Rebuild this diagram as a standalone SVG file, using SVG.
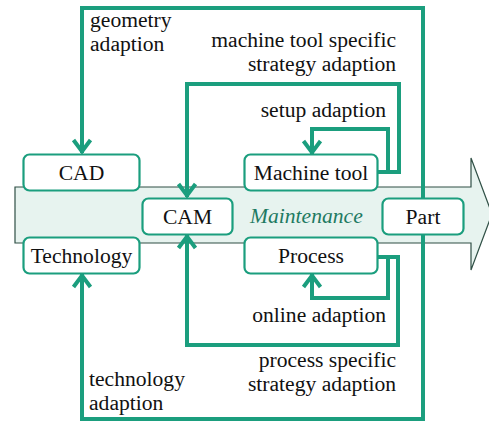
<svg xmlns="http://www.w3.org/2000/svg" width="489" height="425" viewBox="0 0 489 425" font-family="'Liberation Serif', 'DejaVu Serif', serif" font-size="21.6">
  <style>
    .txt { font-family: 'Liberation Serif', 'DejaVu Serif', serif; font-size: 21.6px; fill: #111; }
    .box { fill: #ffffff; stroke: #1b9e7e; stroke-width: 2.2; }
    .lbl { text-anchor: middle; }
    .end { text-anchor: end; }
    .flow { fill: none; stroke: #1b9e7e; stroke-width: 4; stroke-linejoin: miter; }
    .maint { font-style: italic; fill: #1e7a62; }
  </style>
  <defs>
    <marker id="chev" markerUnits="userSpaceOnUse" viewBox="-16 -12 20 24" refX="0" refY="0" markerWidth="20" markerHeight="24" orient="auto">
      <path d="M -13 -8.5 L -1.5 0 L -13 8.5" fill="none" stroke="#1b9e7e" stroke-width="4"/>
    </marker>
  </defs>

  <!-- process arrow in the background -->
  <path d="M15,187 H471 V158 L492,214 L471,270 V243 H15 Z" fill="#e7f3ef" stroke="#2f4f45" stroke-width="1.2"/>
  <text class="txt maint" x="250" y="223">Maintenance</text>

  <g id="connectors">
    <!-- geometry adaption -->
    <path class="flow" d="M423,198 V8 H82 V153" marker-end="url(#chev)"/>
    <!-- technology adaption -->
    <path class="flow" d="M423,234 V419 H82 V274" marker-end="url(#chev)"/>
    <!-- machine tool specific strategy adaption -->
    <path class="flow" d="M378,172 H399 V84 H187 V197" marker-end="url(#chev)"/>
    <!-- setup adaption -->
    <path class="flow" d="M378,172 H388 V129 H312 V154" marker-end="url(#chev)"/>
    <!-- process specific strategy adaption -->
    <path class="flow" d="M378,257 H398 V345 H187 V235" marker-end="url(#chev)"/>
    <!-- online adaption -->
    <path class="flow" d="M378,257 H388 V298 H312 V274" marker-end="url(#chev)"/>
  </g>

  <g id="cad">
    <rect class="box" x="23.5" y="154.5" width="116" height="36" rx="6"/>
    <text class="txt lbl" x="81.5" y="180">CAD</text>
  </g>
  <g id="technology">
    <rect class="box" x="23.5" y="237.5" width="116" height="36" rx="6"/>
    <text class="txt lbl" x="81.5" y="263">Technology</text>
  </g>
  <g id="cam">
    <rect class="box" x="142.5" y="198.5" width="90" height="36" rx="6"/>
    <text class="txt lbl" x="187.5" y="224">CAM</text>
  </g>
  <g id="machine-tool">
    <rect class="box" x="244.5" y="154.5" width="133" height="36" rx="6"/>
    <text class="txt lbl" x="311" y="180">Machine tool</text>
  </g>
  <g id="process">
    <rect class="box" x="244.5" y="237.5" width="133" height="36" rx="6"/>
    <text class="txt lbl" x="311" y="263">Process</text>
  </g>
  <g id="part">
    <rect class="box" x="382.5" y="198.5" width="81" height="36" rx="6"/>
    <text class="txt lbl" x="423" y="224">Part</text>
  </g>

  <g id="labels">
    <text class="txt" x="90" y="27">geometry</text>
    <text class="txt" x="90" y="51">adaption</text>
    <text class="txt end" x="396" y="47">machine tool specific</text>
    <text class="txt end" x="396" y="71">strategy adaption</text>
    <text class="txt end" x="386" y="117">setup adaption</text>
    <text class="txt end" x="386" y="322">online adaption</text>
    <text class="txt end" x="396" y="367">process specific</text>
    <text class="txt end" x="396" y="391">strategy adaption</text>
    <text class="txt" x="89" y="386">technology</text>
    <text class="txt" x="89" y="410">adaption</text>
  </g>
</svg>
